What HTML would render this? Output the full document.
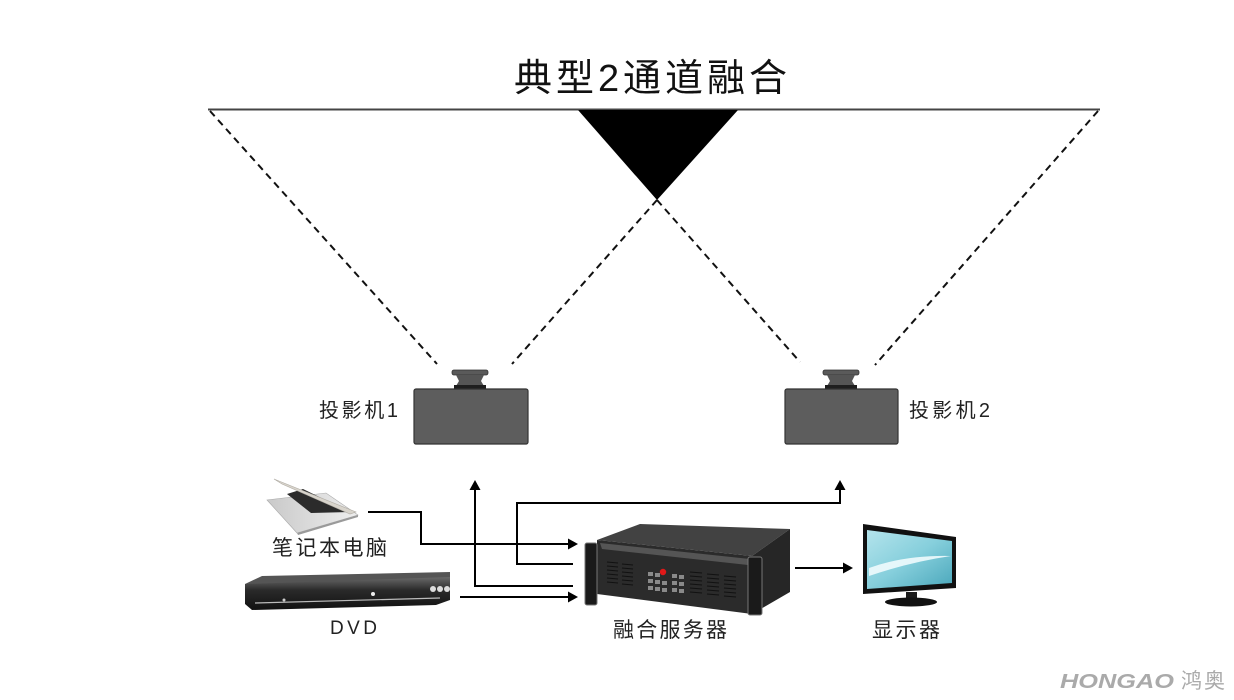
<!DOCTYPE html>
<html>
<head>
<meta charset="utf-8">
<style>
html,body{margin:0;padding:0;background:#fff;}
svg{display:block;}
text{font-family:"Liberation Sans","Noto Sans CJK SC",sans-serif;}
</style>
</head>
<body>
<svg width="1234" height="700" viewBox="0 0 1234 700" xmlns="http://www.w3.org/2000/svg">
<defs>
  <linearGradient id="scr" x1="0" y1="0" x2="1" y2="1">
    <stop offset="0" stop-color="#b4e4ec"/>
    <stop offset="0.5" stop-color="#86cfdc"/>
    <stop offset="1" stop-color="#4aa7bb"/>
  </linearGradient>
  <linearGradient id="lap" x1="0" y1="0" x2="1" y2="0">
    <stop offset="0" stop-color="#c9c9c9"/>
    <stop offset="1" stop-color="#eeeeee"/>
  </linearGradient>
  <linearGradient id="dvd" x1="0" y1="0" x2="0" y2="1">
    <stop offset="0" stop-color="#6a6a6a"/>
    <stop offset="0.4" stop-color="#2a2a2a"/>
    <stop offset="1" stop-color="#111"/>
  </linearGradient>
</defs>

<!-- Title -->
<text x="514" y="91" font-size="38" textLength="273" lengthAdjust="spacing" fill="#111">典型2通道融合</text>

<!-- top screen line -->
<line x1="208" y1="109.5" x2="1100" y2="109.5" stroke="#444" stroke-width="2"/>
<!-- overlap triangle -->
<polygon points="578,110 738,110 657,200" fill="#000"/>

<!-- dashed projection lines -->
<g stroke="#111" stroke-width="2" stroke-dasharray="7,5" fill="none">
  <line x1="210" y1="111" x2="437" y2="364"/>
  <line x1="657" y1="200" x2="512" y2="364"/>
  <line x1="657" y1="200" x2="800" y2="362"/>
  <line x1="1098" y1="111" x2="875" y2="365"/>
</g>

<!-- Projector 1 -->
<g>
  <rect x="452" y="370" width="36" height="5" rx="2" fill="#5a5a5a" stroke="#333" stroke-width="0.8"/>
  <path d="M456,375 L484,375 L481,381 L484,386 L456,386 L459,381 Z" fill="#555"/>
  <rect x="454" y="385" width="32" height="4" fill="#1e1e1e"/>
  <rect x="414" y="389" width="114" height="55" rx="2" fill="#5d5d5d" stroke="#333" stroke-width="1.2"/>
</g>
<text x="319" y="417" font-size="20" textLength="79" lengthAdjust="spacing" fill="#222">投影机1</text>

<!-- Projector 2 -->
<g>
  <rect x="823" y="370" width="36" height="5" rx="2" fill="#5a5a5a" stroke="#333" stroke-width="0.8"/>
  <path d="M827,375 L855,375 L852,381 L855,386 L827,386 L830,381 Z" fill="#555"/>
  <rect x="825" y="385" width="32" height="4" fill="#1e1e1e"/>
  <rect x="785" y="389" width="113" height="55" rx="2" fill="#5d5d5d" stroke="#333" stroke-width="1.2"/>
</g>
<text x="909" y="417" font-size="20" textLength="81" lengthAdjust="spacing" fill="#222">投影机2</text>

<!-- Laptop -->
<g>
  <polygon points="267,500 297,533 358,515 326,493" fill="url(#lap)" stroke="#aaa" stroke-width="0.6"/>
  <polygon points="287,494 311,513 350,512 303,489" fill="#2b2b2b"/>
  <polygon points="274,479 356,512 350,514 282,484" fill="#d8d4cc" stroke="#b0aca4" stroke-width="0.6"/>
  <polygon points="297,533 358,515 358,517 298,535" fill="#9a9a9a"/>
</g>
<text x="272" y="555" font-size="21" textLength="115" lengthAdjust="spacing" fill="#222">笔记本电脑</text>

<!-- DVD -->
<g>
  <polygon points="245,584 262,576 450,572 450,579 250,587" fill="#555"/>
  <polygon points="245,584 450,577 450,600 436,605 252,610 245,604" fill="url(#dvd)"/>
  <line x1="255" y1="603" x2="440" y2="598" stroke="#bbb" stroke-width="1.2"/>
  <circle cx="433" cy="589" r="3" fill="#ddd"/>
  <circle cx="440" cy="589" r="3" fill="#ddd"/>
  <circle cx="447" cy="589" r="3" fill="#ddd"/>
  <circle cx="373" cy="594" r="2" fill="#eee"/>
  <circle cx="284" cy="600" r="1.5" fill="#ccc"/>
</g>
<text x="330" y="634" font-size="19" textLength="47" lengthAdjust="spacing" fill="#222">DVD</text>

<!-- Fusion server -->
<g>
  <polygon points="597,540 640,524 790,529 752,556" fill="#424242"/>
  <polygon points="752,556 790,529 790,592 752,614" fill="#262626"/>
  <polygon points="597,540 752,556 752,614 597,594" fill="#2b2b2b"/>
  <polygon points="600,543 750,559 748,565 602,549" fill="#555"/>
  <rect x="585" y="543" width="12" height="62" rx="2" fill="#1a1a1a" stroke="#777" stroke-width="1"/>
  <rect x="748" y="557" width="14" height="58" rx="2" fill="#1a1a1a" stroke="#777" stroke-width="1"/>
  <g stroke="#111" stroke-width="1">
    <line x1="607" y1="562" x2="618" y2="563"/><line x1="607" y1="566" x2="618" y2="567"/>
    <line x1="607" y1="570" x2="618" y2="571"/><line x1="607" y1="574" x2="618" y2="575"/>
    <line x1="607" y1="578" x2="618" y2="579"/><line x1="607" y1="582" x2="618" y2="583"/>
    <line x1="622" y1="564" x2="633" y2="565"/><line x1="622" y1="568" x2="633" y2="569"/>
    <line x1="622" y1="572" x2="633" y2="573"/><line x1="622" y1="576" x2="633" y2="577"/>
    <line x1="622" y1="580" x2="633" y2="581"/><line x1="622" y1="584" x2="633" y2="585"/>
    <line x1="690" y1="572" x2="702" y2="573"/><line x1="690" y1="576" x2="702" y2="577"/>
    <line x1="690" y1="580" x2="702" y2="581"/><line x1="690" y1="584" x2="702" y2="585"/>
    <line x1="690" y1="588" x2="702" y2="589"/><line x1="690" y1="592" x2="702" y2="593"/>
    <line x1="707" y1="574" x2="719" y2="575"/><line x1="707" y1="578" x2="719" y2="579"/>
    <line x1="707" y1="582" x2="719" y2="583"/><line x1="707" y1="586" x2="719" y2="587"/>
    <line x1="707" y1="590" x2="719" y2="591"/><line x1="707" y1="594" x2="719" y2="595"/>
    <line x1="724" y1="576" x2="736" y2="577"/><line x1="724" y1="580" x2="736" y2="581"/>
    <line x1="724" y1="584" x2="736" y2="585"/><line x1="724" y1="588" x2="736" y2="589"/>
    <line x1="724" y1="592" x2="736" y2="593"/><line x1="724" y1="596" x2="736" y2="597"/>
  </g>
  <g fill="#8a8a8a">
    <rect x="648" y="572" width="5" height="4"/><rect x="655" y="573" width="5" height="4"/>
    <rect x="672" y="574" width="5" height="4"/><rect x="679" y="575" width="5" height="4"/>
    <rect x="648" y="579" width="5" height="4"/><rect x="655" y="580" width="5" height="4"/>
    <rect x="662" y="581" width="5" height="4"/><rect x="672" y="581" width="5" height="4"/>
    <rect x="679" y="582" width="5" height="4"/>
    <rect x="648" y="586" width="5" height="4"/><rect x="655" y="587" width="5" height="4"/>
    <rect x="662" y="588" width="5" height="4"/><rect x="672" y="588" width="5" height="4"/>
    <rect x="679" y="589" width="5" height="4"/>
  </g>
  <circle cx="663" cy="572" r="3.2" fill="#e01818"/>
</g>
<text x="613" y="637" font-size="21" textLength="114" lengthAdjust="spacing" fill="#222">融合服务器</text>

<!-- Monitor -->
<g>
  <polygon points="863,524 956,537 956,588 863,594" fill="#111"/>
  <polygon points="867,530 952,541 952,583 867,589" fill="url(#scr)"/>
  <path d="M869,568 Q905,555 951,556 Q910,562 869,576 Z" fill="#f0fbfd" opacity="0.9"/>
  <rect x="906" y="592" width="11" height="8" fill="#1a1a1a"/>
  <ellipse cx="911" cy="602" rx="26" ry="4.5" fill="#111"/>
</g>
<text x="872" y="637" font-size="21" textLength="68" lengthAdjust="spacing" fill="#222">显示器</text>

<!-- connectors -->
<g stroke="#000" stroke-width="2" fill="none">
  <polyline points="368,512 421,512 421,544 569,544"/>
  <line x1="460" y1="597" x2="569" y2="597"/>
  <polyline points="573,586 475,586 475,489"/>
  <polyline points="573,564 517,564 517,503 840,503 840,489"/>
  <line x1="795" y1="568" x2="844" y2="568"/>
</g>
<g fill="#000">
  <polygon points="578,544 568,538.5 568,549.5"/>
  <polygon points="578,597 568,591.5 568,602.5"/>
  <polygon points="475,480 469.5,490 480.5,490"/>
  <polygon points="840,480 834.5,490 845.5,490"/>
  <polygon points="853,568 843,562.5 843,573.5"/>
</g>

<!-- watermark -->
<text x="1060" y="688" font-size="20" font-weight="bold" font-style="italic" textLength="114" lengthAdjust="spacingAndGlyphs" fill="#aaa">HONGAO</text>
<text x="1181" y="688" font-size="21" textLength="44" lengthAdjust="spacing" fill="#aaa">鸿奥</text>
</svg>
</body>
</html>
